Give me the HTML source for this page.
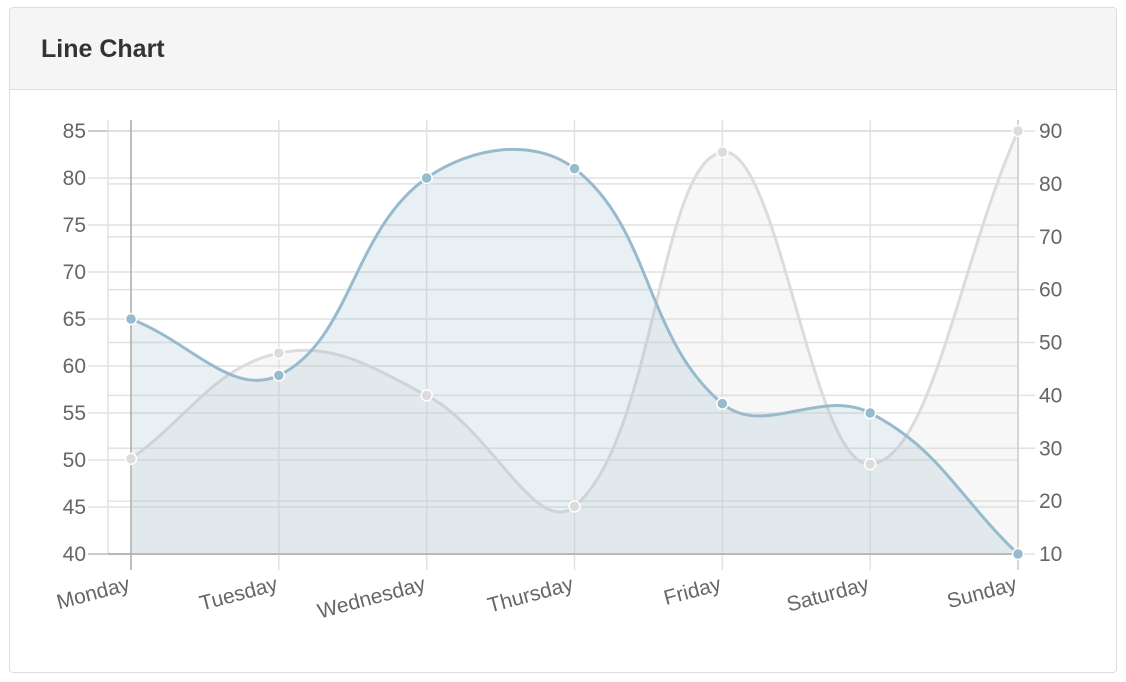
<!DOCTYPE html>
<html><head><meta charset="utf-8"><style>
body{margin:0;background:#fff;font-family:"Liberation Sans",sans-serif;}
.panel{position:absolute;left:9px;top:7px;width:1106px;height:664px;border:1px solid #ddd;border-radius:4px;overflow:hidden}
.hdr{height:81px;background:#f5f5f5;border-bottom:1px solid #ddd;}
.hdr h3{margin:0;position:absolute;left:31px;top:27px;font-size:25px;font-weight:bold;color:#333}
svg{position:absolute;left:0;top:0}
</style></head><body>
<div class="panel"><div class="hdr"><h3>Line Chart</h3></div></div>
<svg id="c" width="1126" height="682"></svg>
<script>
const categories=["Monday","Tuesday","Wednesday","Thursday","Friday","Saturday","Sunday"];
const seriesA=[65,59,80,81,56,55,40];
const seriesB=[28,48,40,19,86,27,90];
const leftTicks=[40,45,50,55,60,65,70,75,80,85];
const rightTicks=[10,20,30,40,50,60,70,80,90];
const X0=131,X1=1018,YT=131,YB=554;
const xs=i=>X0+i*(X1-X0)/(categories.length-1);
const yl=v=>YB-(v-40)/(85-40)*(YB-YT);
const yr=v=>YB-(v-10)/(90-10)*(YB-YT);
const svg=document.getElementById('c');const NS='http://www.w3.org/2000/svg';
function mk(t,a,p){const e=document.createElementNS(NS,t);for(const k in a)e.setAttribute(k,a[k]);(p||svg).appendChild(e);return e;}
leftTicks.forEach(v=>{const l=mk('line',{x1:88,x2:X1,y1:yl(v),y2:yl(v),stroke:v==40||v==85?'#bbb':'#e2e2e2','stroke-width':1.5});

const t=mk('text',{x:86,y:yl(v)+7,'text-anchor':'end','font-size':21,fill:'#666'});t.textContent=v;
});
rightTicks.forEach(v=>{const l=mk('line',{x1:108,x2:1035,y1:yr(v),y2:yr(v),stroke:'#e2e2e2','stroke-width':1.5});

const t=mk('text',{x:1039,y:yr(v)+7,'font-size':21,fill:'#666'});t.textContent=v;
});
const vg=mk('line',{x1:108,x2:108,y1:120,y2:554,stroke:'#e2e2e2','stroke-width':1.5});

categories.forEach((c,i)=>{const x=xs(i);const l=mk('line',{x1:x,x2:x,y1:120,y2:570,stroke:i==0?'#aaa':'#e2e2e2','stroke-width':1.5});

const t=mk('text',{x:x,y:590,'text-anchor':'end','font-size':21,fill:'#666',transform:`rotate(-15 ${x} 590)`});t.textContent=c;
});
mk('line',{x1:X1,x2:X1,y1:120,y2:570,stroke:'#ccc','stroke-width':1.5});
mk('line',{x1:108,x2:X1,y1:YB,y2:YB,stroke:'#aaa','stroke-width':1.5});
function path(pts){const t=0.4;let d=`M${pts[0][0]},${pts[0][1]}`;const cp=[];
for(let i=0;i<pts.length;i++){const p=pts[i-1]||pts[i],c=pts[i],n=pts[i+1]||pts[i];
const d01=Math.hypot(c[0]-p[0],c[1]-p[1]),d12=Math.hypot(n[0]-c[0],n[1]-c[1]);
const fa=t*d01/(d01+d12||1),fb=t*d12/(d01+d12||1);
cp.push([[c[0]-fa*(n[0]-p[0]),c[1]-fa*(n[1]-p[1])],[c[0]+fb*(n[0]-p[0]),c[1]+fb*(n[1]-p[1])]]);}
for(let i=1;i<pts.length;i++){const a=cp[i-1][1],b=cp[i][0];d+=` C${a[0]},${a[1]} ${b[0]},${b[1]} ${pts[i][0]},${pts[i][1]}`;}return d;}
function series(vals,yf,col,fill,name){const pts=vals.map((v,i)=>[xs(i),yf(v)]);const d=path(pts);
const a=mk('path',{d:d+` L${X1},${YB} L${X0},${YB} Z`,fill:fill});
const l=mk('path',{d:d,fill:'none',stroke:col,'stroke-width':3});
return pts;}
const pb=series(seriesB,yr,'#dcdcdc','rgba(220,220,220,0.22)','series-b');
const pa=series(seriesA,yl,'#97bbcd','rgba(151,187,205,0.22)','series-a');
pb.forEach(p=>{const c=mk('circle',{cx:p[0],cy:p[1],r:5.5,fill:'#dcdcdc',stroke:'#fff','stroke-width':1.5});});
pa.forEach(p=>{const c=mk('circle',{cx:p[0],cy:p[1],r:5.5,fill:'#97bbcd',stroke:'#fff','stroke-width':1.5});});
</script></body></html>
